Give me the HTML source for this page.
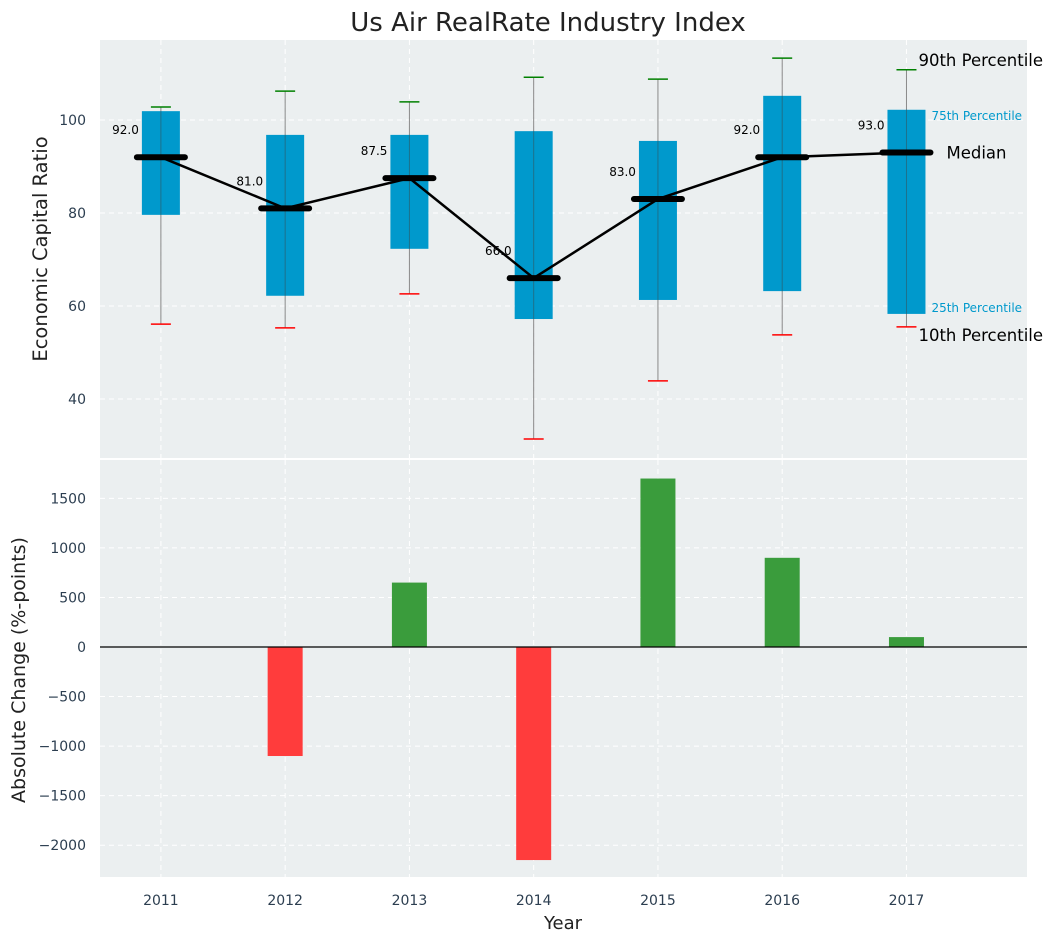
<!DOCTYPE html>
<html><head><meta charset="utf-8"><style>
body{margin:0;background:#fff;}
svg text{font-family:"DejaVu Sans","Liberation Sans",sans-serif;}
</style></head><body>
<svg id="chart" width="1053" height="942" xmlns="http://www.w3.org/2000/svg">
<text x="548" y="31" font-size="26" text-anchor="middle" fill="#222">Us Air RealRate Industry Index</text>
<rect x="100" y="40" width="927" height="418" fill="#ebeff0"/>
<rect x="100" y="460" width="927" height="417" fill="#ebeff0"/>
<g id="g"></g>
<text x="47" y="249" font-size="19.5" fill="#222" text-anchor="middle" transform="rotate(-90 47 249)">Economic Capital Ratio</text>
<text x="25" y="670" font-size="19" fill="#222" text-anchor="middle" transform="rotate(-90 25 670)">Absolute Change (%-points)</text>
<text x="563" y="929" font-size="18" fill="#222" text-anchor="middle">Year</text>
</svg>
<script>
const years=[2011,2012,2013,2014,2015,2016,2017];
const p10=[56.1,55.3,62.6,31.4,43.9,53.8,55.5];
const q1=[79.6,62.2,72.3,57.2,61.3,63.2,58.3];
const med=[92,81,87.5,66,83,92,93];
const q3=[101.9,96.8,96.8,97.6,95.5,105.2,102.2];
const p90=[102.8,106.2,103.9,109.2,108.8,113.3,110.8];
const change=[0,-1100,650,-2150,1700,900,100];
const topTicks=[40,60,80,100];
const botTicks=[-2000,-1500,-1000,-500,0,500,1000,1500];

const NS="http://www.w3.org/2000/svg";
const g=document.getElementById('g');
const X=v=>100+(v-2010.51)/(2017.97-2010.51)*927;
const Y1=v=>399-(v-40)*4.65;
const Y2=v=>647-v*0.0991;
function mk(t,a,txt){const e=document.createElementNS(NS,t);for(const k in a)e.setAttribute(k,a[k]);if(txt!==undefined)e.textContent=txt;g.appendChild(e);return e;}

years.forEach(y=>{
  let e=mk('line',{x1:X(y),x2:X(y),y1:40,y2:458,stroke:'#fff','stroke-dasharray':'5,4'});
  
  
  e=mk('line',{x1:X(y),x2:X(y),y1:460,y2:877,stroke:'#fff','stroke-dasharray':'5,4'});
  
  
  e=mk('text',{x:X(y),y:905,'font-size':14,fill:'#2c3e50','text-anchor':'middle'},y);
  
  
});
topTicks.forEach(v=>{
  let e=mk('line',{x1:100,x2:1027,y1:Y1(v),y2:Y1(v),stroke:'#fff','stroke-dasharray':'5,4'});
  
  
  e=mk('text',{x:86,y:Y1(v)+5,'font-size':14,fill:'#2c3e50','text-anchor':'end'},v);
  
  
});
botTicks.forEach(v=>{
  let e=mk('line',{x1:100,x2:1027,y1:Y2(v),y2:Y2(v),stroke:'#fff','stroke-dasharray':'5,4'});
  
  
  e=mk('text',{x:86,y:Y2(v)+5,'font-size':14,fill:'#2c3e50','text-anchor':'end'},v<0?'\u2212'+(-v):v);
  
  
});
mk('line',{x1:0,x2:1053,y1:459,y2:459,stroke:'#fff','stroke-width':2});

years.forEach((y,i)=>{
  const cx=X(y);
  let e=mk('line',{x1:cx,x2:cx,y1:Y1(p90[i]),y2:Y1(p10[i]),stroke:'#888','stroke-width':1});
  
  
  e=mk('rect',{x:cx-19,y:Y1(q3[i]),width:38,height:Y1(q1[i])-Y1(q3[i]),fill:'#0099cc'});
  
  
  mk('line',{x1:cx,x2:cx,y1:Y1(q3[i]),y2:Y1(q1[i]),stroke:'#2a6070','stroke-width':1,opacity:0.7});
  e=mk('line',{x1:cx-10,x2:cx+10,y1:Y1(p90[i]),y2:Y1(p90[i]),stroke:'green','stroke-width':1.5});
  
  
  e=mk('line',{x1:cx-10,x2:cx+10,y1:Y1(p10[i]),y2:Y1(p10[i]),stroke:'red','stroke-width':1.5});
  
  
});
let pts=years.map((y,i)=>X(y)+','+Y1(med[i])).join(' ');
let ml=mk('polyline',{points:pts,fill:'none',stroke:'#000','stroke-width':2.5});


years.forEach((y,i)=>{
  const cx=X(y);
  let e=mk('line',{x1:cx-24,x2:cx+24,y1:Y1(med[i]),y2:Y1(med[i]),stroke:'#000','stroke-width':6,'stroke-linecap':'round'});
  
  
  e=mk('text',{x:cx-22,y:Y1(med[i])-23,'font-size':12,fill:'#000','text-anchor':'end'},med[i].toFixed(1));
  
  
});
const lx=X(2017);
[['90th Percentile',lx+12,Y1(p90[6])-4,16.5,'#000'],['75th Percentile',lx+25,Y1(q3[6])+10,12,'#0099cc'],['Median',lx+40,Y1(med[6])+6,16.5,'#000'],['25th Percentile',lx+25,Y1(q1[6])-2,12,'#0099cc'],['10th Percentile',lx+12,Y1(p10[6])+14,16.5,'#000']].forEach(a=>{
  let e=mk('text',{x:a[1],y:a[2],'font-size':a[3],fill:a[4]},a[0]);
  
  
});
years.forEach((y,i)=>{
  const v=change[i];
  if(v===0)return;
  let e=mk('rect',{x:X(y)-17.5,y:Math.min(Y2(v),Y2(0)),width:35,height:Math.abs(Y2(v)-Y2(0)),fill:v>0?'#3a9c3c':'#ff3c3c'});
  
  
});
let z=mk('line',{x1:100,x2:1027,y1:Y2(0),y2:Y2(0),stroke:'#000','stroke-width':1.2});


</script>
</body></html>
